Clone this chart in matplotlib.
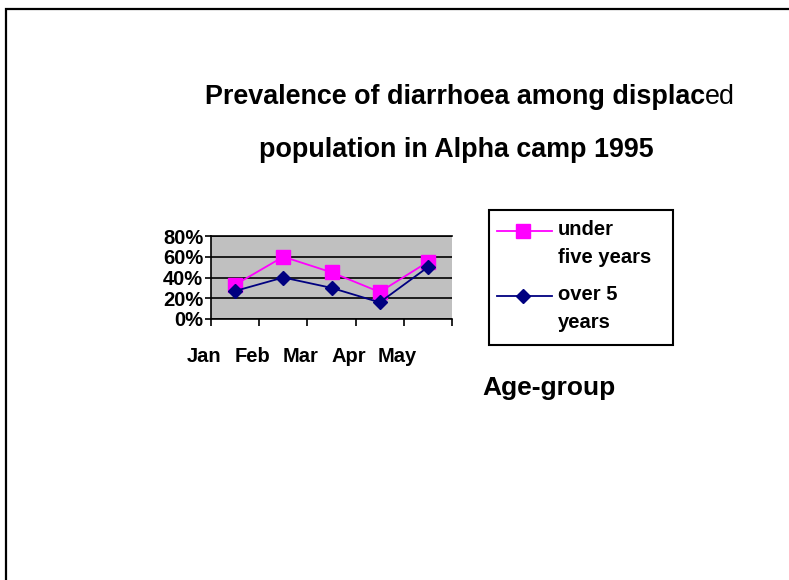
import matplotlib
matplotlib.use("Agg")
import matplotlib.pyplot as plt
import matplotlib.transforms as mtransforms
from matplotlib.patches import Rectangle
from matplotlib.lines import Line2D

plt.rcParams["font.family"] = ["Liberation Sans", "DejaVu Sans"]

months = ["Jan", "Feb", "Mar", "Apr", "May"]
under_five = [0.33, 0.60, 0.45, 0.26, 0.55]
over_five = [0.27, 0.40, 0.30, 0.16, 0.50]
y_ticks = [0.0, 0.2, 0.4, 0.6, 0.8]
legend_labels = ["under\nfive years", "over 5\nyears"]

W, H = 789, 580
fig = plt.figure(figsize=(W / 100, H / 100), dpi=100)


def fx(px):
    return px / W


def fy(py):
    return 1 - py / H


# outer frame (only top and left edges fall inside the picture)
fig.patches.append(Rectangle((fx(6), -0.1), 1.2, 1.1 - 9 / H, transform=fig.transFigure,
                             fill=False, edgecolor="black", linewidth=1.6))

ax = fig.add_axes([fx(211), fy(319), 241 / W, 83 / H])
ax.set_facecolor("#C0C0C0")
x = [i + 0.5 for i in range(len(months))]
l1, = ax.plot(x, under_five, color="#FF00FF", marker="s", markersize=10, linewidth=1.3)
l2, = ax.plot(x, over_five, color="#000080", marker="D", markersize=7.5, linewidth=1.3)

ax.set_xlim(0, len(months))
ax.set_ylim(0, 0.8)
ax.set_yticks(y_ticks)
ax.set_yticklabels([f"{v:.0%}" for v in y_ticks], fontsize=14.5, fontweight="bold")
ax.yaxis.grid(True, color="black", linewidth=1.2)
ax.set_axisbelow(True)
ax.tick_params(axis="y", direction="out", length=4, width=1.2, pad=1.5)

ax.set_xticks(x)
ax.set_xticklabels(months, fontsize=14.5, fontweight="bold")
ax.set_xticks(range(len(months) + 1), minor=True)
ax.tick_params(axis="x", which="major", length=0, pad=20.5)
ax.tick_params(axis="x", which="minor", direction="out", length=5, width=1.2)
shift = mtransforms.ScaledTranslation(-31 / 100, 0, fig.dpi_scale_trans)
for lab in ax.get_xticklabels():
    lab.set_transform(lab.get_transform() + shift)

for s in ["left", "bottom", "top"]:
    ax.spines[s].set_color("black")
    ax.spines[s].set_linewidth(1.2)
ax.spines["right"].set_visible(False)

# title, the last two letters are not bold in the original
t1 = ax.annotate("Prevalence of diarrhoea among displac", xy=(fx(205), fy(110)),
                 xycoords="figure fraction", fontsize=19.4, fontweight="bold",
                 ha="left", va="bottom", annotation_clip=False)
ax.annotate("ed", xy=(1, 0), xycoords=t1, fontsize=19.4, ha="left", va="bottom",
            annotation_clip=False)
fig.text(fx(456), fy(150), "population in Alpha camp 1995",
         fontsize=19.4, fontweight="bold", ha="center", va="center")

# legend box drawn by hand so the key sits on the first line of each label
fig.patches.append(Rectangle((fx(489), fy(345)), (673 - 489) / W, (345 - 210) / H,
                             transform=fig.transFigure, facecolor="white",
                             edgecolor="black", linewidth=1.5))
for line, label, py in zip([l1, l2], legend_labels, [231, 296]):
    fig.add_artist(Line2D([fx(497), fx(552)], [fy(py), fy(py)], transform=fig.transFigure,
                          color=line.get_color(), linewidth=line.get_linewidth()))
    fig.add_artist(Line2D([fx(523)], [fy(py)], transform=fig.transFigure,
                          color=line.get_color(), marker=line.get_marker(),
                          markersize=line.get_markersize(), linestyle="none"))
    fig.text(fx(558), fy(py - 11), label, fontsize=14.5, fontweight="bold",
             ha="left", va="top", linespacing=1.62)

fig.text(fx(549), fy(388), "Age-group", fontsize=19, fontweight="bold",
         ha="center", va="center")

fig.savefig("out.png", dpi=100)
